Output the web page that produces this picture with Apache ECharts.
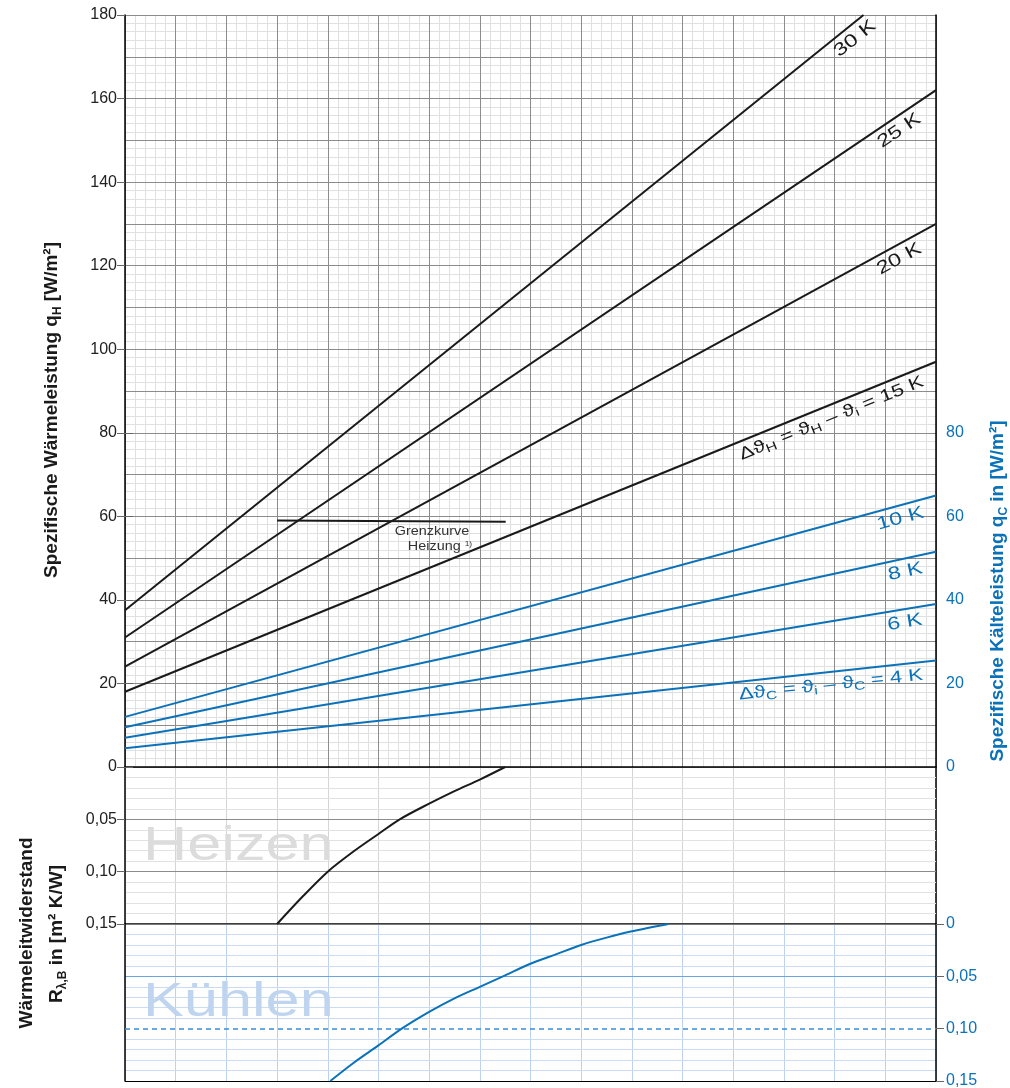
<!DOCTYPE html>
<html>
<head>
<meta charset="utf-8">
<script src="https://cdn.jsdelivr.net/npm/echarts@6/dist/echarts.min.js"></script>
<style>
html, body { margin: 0; padding: 0; background: #fff; }
#chart { width: 1010px; height: 1088px; }
</style>
</head>
<body>
<div id="chart"></div>
<script>
// x is a unitless position on the chart (16 grid columns)
const qH30 = [[0, 37.5], [14.57, 180]];
const qH25 = [[0, 31], [16, 162]];
const qH20 = [[0, 24], [16, 130]];
const qH15 = [[0, 18], [16, 97]];
const qC10 = [[0, 12], [16, 65]];
const qC8 = [[0, 9.5], [16, 51.5]];
const qC6 = [[0, 7], [16, 39]];
const qC4 = [[0, 4.5], [16, 25.5]];
const grenzkurve = [[3, 59], [7.51, 58.7]];

// Wärmeleitwiderstand curves (R in m² K/W)
const rHeizen = [[3.0, 0.15], [3.5, 0.124], [4, 0.1], [4.5, 0.081], [5, 0.064], [5.42, 0.05],
  [6, 0.035], [6.5, 0.023], [7, 0.012], [7.5, 0]];
const rKuehlen = [[4.05, 0.15], [4.5, 0.133], [5, 0.116], [5.46, 0.1], [6, 0.084], [6.5, 0.071],
  [7, 0.06], [7.5, 0.049], [8, 0.038], [8.5, 0.029], [9, 0.02], [9.5, 0.013], [10, 0.007], [10.72, 0]];

const rTickLabels = ['0', '0,05', '0,10', '0,15'];

const FONT = "'Liberation Sans', Arial, Helvetica, sans-serif";
const DARK = '#1a1a1a';
const BLUE = '#0b72b9';
const MAJOR = '#8c8c8c';
const MINOR = '#e0e0e0';

const chart = echarts.init(document.getElementById('chart'));

const off = { show: false };
function rFmt(v) {
  return rTickLabels[Math.round(v / 0.05)];
}

function line(data, color, xi, yi) {
  return {
    type: 'line', data: data, xAxisIndex: xi, yAxisIndex: yi,
    symbol: 'none', silent: true, animation: false, z: 10,
    lineStyle: { color: color, width: 2 }
  };
}

const xBase = { type: 'value', min: 0, max: 16, interval: 1, axisLabel: off, axisTick: off };
const tickStyle = { show: true, length: 8, lineStyle: { color: '#666' } };

let options = {
  backgroundColor: '#fff',
  animation: false,
  grid: [
    { left: 125, top: 15, width: 811, height: 752, outerBoundsMode: 'none', containLabel: false },
    { left: 125, top: 767, width: 811, height: 157, outerBoundsMode: 'none', containLabel: false },
    { left: 125, top: 924, width: 811, height: 157, outerBoundsMode: 'none', containLabel: false },
    { left: 125, top: 767 - 80 * 752 / 180, width: 811, height: 80 * 752 / 180, outerBoundsMode: 'none', containLabel: false }
  ],
  xAxis: [
    // grid 0 minor lines
    Object.assign({}, xBase, { gridIndex: 0, position: 'bottom', z: 0, axisLine: off, splitLine: off,
      minorTick: { show: false, splitNumber: 5 }, minorSplitLine: { show: true, lineStyle: { color: MINOR, width: 1 } } }),
    // grid 0 major lines + top border
    Object.assign({}, xBase, { gridIndex: 0, position: 'top', z: 1,
      axisLine: { show: true, lineStyle: { color: '#000', width: 1.5 } },
      splitLine: { show: true, lineStyle: { color: MAJOR, width: 1 } } }),
    // grid 1 (Heizen)
    Object.assign({}, xBase, { gridIndex: 1, z: 0, axisLine: off,
      splitLine: { show: true, lineStyle: { color: '#d4d4d4', width: 1 } } }),
    // grid 2 (Kühlen)
    Object.assign({}, xBase, { gridIndex: 2, z: 0,
      axisLine: { show: true, lineStyle: { color: '#000', width: 1.5 } },
      splitLine: { show: true, lineStyle: { color: '#bcd2ee', width: 1 } } }),
    // grid 3 helper
    Object.assign({}, xBase, { gridIndex: 3, show: false })
  ],
  yAxis: [
    // 0: left labels q_H
    { type: 'value', gridIndex: 0, position: 'left', min: 0, max: 180, interval: 20, z: 2,
      axisLine: { show: true, lineStyle: { color: '#000', width: 1.5 } },
      axisTick: tickStyle,
      axisLabel: { color: '#222', fontSize: 16, fontFamily: FONT, margin: 8 },
      splitLine: off },
    // 1: minor horizontal lines
    { type: 'value', gridIndex: 0, position: 'left', min: 0, max: 180, interval: 10, z: 0,
      axisLine: off, axisTick: off, axisLabel: off, splitLine: off,
      minorTick: { show: false, splitNumber: 5 },
      minorSplitLine: { show: true, lineStyle: { color: MINOR, width: 1 } } },
    // 2: major horizontal lines + right border
    { type: 'value', gridIndex: 0, position: 'right', min: 0, max: 180, interval: 10, z: 1,
      axisLine: { show: true, lineStyle: { color: '#000', width: 1.5 } },
      axisTick: off, axisLabel: off,
      splitLine: { show: true, lineStyle: { color: MAJOR, width: 1 } } },
    // 3: Heizen left
    { type: 'value', gridIndex: 1, position: 'left', inverse: true, min: 0, max: 0.15, interval: 0.05, z: 1,
      axisLine: { show: true, lineStyle: { color: '#000', width: 1.5 } },
      axisTick: tickStyle,
      axisLabel: { color: '#222', fontSize: 16, fontFamily: FONT, margin: 8,
        formatter: function (v) { return v === 0 ? '' : rFmt(v); } },
      splitLine: { show: true, lineStyle: { color: MAJOR, width: 1 } },
      minorTick: { show: false, splitNumber: 5 },
      minorSplitLine: { show: true, lineStyle: { color: '#e2e2e2', width: 1 } } },
    // 4: Heizen right border
    { type: 'value', gridIndex: 1, position: 'right', inverse: true, min: 0, max: 0.15, interval: 0.05,
      axisLine: { show: true, lineStyle: { color: '#000', width: 1.5 } },
      axisTick: off, axisLabel: off, splitLine: off },
    // 5: Kühlen left
    { type: 'value', gridIndex: 2, position: 'left', inverse: true, min: 0, max: 0.15, interval: 0.05, z: 1,
      axisLine: { show: true, lineStyle: { color: '#000', width: 1.5 } },
      axisTick: off, axisLabel: off,
      splitLine: { show: true, lineStyle: { color: ['#777', '#6aa5dd', 'rgba(0,0,0,0)', '#000'], width: 1.2 } },
      minorTick: { show: false, splitNumber: 5 },
      minorSplitLine: { show: true, lineStyle: { color: '#c9dcf3', width: 1 } } },
    // 6: Kühlen right labels
    { type: 'value', gridIndex: 2, position: 'right', inverse: true, min: 0, max: 0.15, interval: 0.05, z: 2,
      axisLine: { show: true, lineStyle: { color: '#000', width: 1.5 } },
      axisTick: tickStyle,
      axisLabel: { color: BLUE, fontSize: 16, fontFamily: FONT, margin: 10, formatter: rFmt },
      splitLine: off },
    // 7: q_C right labels
    { type: 'value', gridIndex: 3, position: 'right', min: 0, max: 80, interval: 20, z: 2,
      axisLine: off,
      axisTick: tickStyle,
      axisLabel: { color: BLUE, fontSize: 16, fontFamily: FONT, margin: 10 },
      splitLine: off }
  ],
  series: [
    line(qH30, DARK, 0, 1),
    line(qH25, DARK, 0, 1),
    line(qH20, DARK, 0, 1),
    line(qH15, DARK, 0, 1),
    line(qC10, BLUE, 0, 1),
    line(qC8, BLUE, 0, 1),
    line(qC6, BLUE, 0, 1),
    line(qC4, BLUE, 0, 1),
    line(grenzkurve, DARK, 0, 1),
    Object.assign(line(rHeizen, DARK, 2, 3), { smooth: 0.3 }),
    Object.assign(line(rKuehlen, BLUE, 3, 5), {
      smooth: 0.3,
      markLine: {
        silent: true, symbol: ['none', 'none'], label: off, animation: false,
        lineStyle: { type: [5, 4], color: '#3b8bd8', width: 1.5 },
        data: [{ yAxis: 0.1 }]
      }
    })
  ]
};

chart.setOption(options);

// labels along the lines
function richFor(color, size) {
  return {
    t: { fontSize: size, fontFamily: FONT, fill: color, lineHeight: 21 },
    s: { fontSize: 12, fontFamily: FONT, fill: color, verticalAlign: 'bottom', lineHeight: 15 }
  };
}

function interp(data, x) {
  const a = data[0], b = data[data.length - 1];
  return a[1] + (b[1] - a[1]) * (x - a[0]) / (b[0] - a[0]);
}

function lineLabel(data, at, text, color, size) {
  const p0 = chart.convertToPixel({ gridIndex: 0 }, data[0]);
  const p1 = chart.convertToPixel({ gridIndex: 0 }, data[data.length - 1]);
  const ang = Math.atan2(p0[1] - p1[1], p1[0] - p0[0]);
  const p = chart.convertToPixel({ gridIndex: 0 }, [at, interp(data, at)]);
  const d = 13;
  return {
    type: 'text', z: 20, silent: true,
    x: p[0] + d * Math.sin(ang), y: p[1] + d * Math.cos(ang),
    rotation: ang, scaleX: 1.3,
    style: { text: text, align: 'center', verticalAlign: 'middle', fill: color, rich: richFor(color, size) }
  };
}

function vText(x, y, text, color) {
  return {
    type: 'text', x: x, y: y, rotation: Math.PI / 2, silent: true, z: 20,
    style: {
      text: text, align: 'center', verticalAlign: 'middle',
      rich: {
        t: { fontSize: 19, fontWeight: 'bold', fontFamily: FONT, fill: color, lineHeight: 24 },
        s: { fontSize: 12, fontWeight: 'bold', fontFamily: FONT, fill: color, verticalAlign: 'bottom', lineHeight: 16 }
      }
    }
  };
}

chart.setOption({
  graphic: [
    lineLabel(qH30, 14.24, '{t|30 K}', DARK, 18),
    lineLabel(qH25, 15.13, '{t|25 K}', DARK, 18),
    lineLabel(qH20, 15.15, '{t|20 K}', DARK, 18),
    lineLabel(qH15, 13.84, '{t|Δϑ}{s|H}{t| = ϑ}{s|H}{t| – ϑ}{s|i}{t| = 15 K}', DARK, 17),
    lineLabel(qC10, 15.23, '{t|10 K}', BLUE, 18),
    lineLabel(qC8, 15.34, '{t|8 K}', BLUE, 18),
    lineLabel(qC6, 15.34, '{t|6 K}', BLUE, 18),
    lineLabel(qC4, 13.9, '{t|Δϑ}{s|C}{t| = ϑ}{s|i}{t| – ϑ}{s|C}{t| = 4 K}', BLUE, 17),
    {
      type: 'text', x: 432, y: 532, scaleX: 1.2, silent: true, z: 20,
      style: { text: 'Grenzkurve', align: 'center', verticalAlign: 'middle', fontSize: 12, fontFamily: FONT, fill: '#333' }
    },
    {
      type: 'text', x: 440, y: 547, scaleX: 1.2, silent: true, z: 20,
      style: {
        text: 'Heizung {p|1)}', align: 'center', verticalAlign: 'middle', fontSize: 12, fontFamily: FONT, fill: '#333',
        rich: { p: { fontSize: 7, fontFamily: FONT, fill: '#333', verticalAlign: 'top', lineHeight: 8 } }
      }
    },
    {
      type: 'text', x: 143, y: 846, scaleX: 1.25, silent: true, z: 1,
      style: { text: 'Heizen', align: 'left', verticalAlign: 'middle', fontSize: 49, fontFamily: FONT, fill: '#dcdcdc' }
    },
    {
      type: 'text', x: 143, y: 1002, scaleX: 1.25, silent: true, z: 1,
      style: { text: 'Kühlen', align: 'left', verticalAlign: 'middle', fontSize: 49, fontFamily: FONT, fill: '#bfd4ef' }
    },
    vText(52, 410, '{t|Spezifische Wärmeleistung q}{s|H}{t| [W/m²]}', DARK),
    vText(998, 591, '{t|Spezifische Kälteleistung q}{s|C}{t| in [W/m²]}', BLUE),
    vText(27, 933, '{t|Wärmeleitwiderstand}', DARK),
    vText(57, 934, '{t|R}{s|λ,B}{t| in [m² K/W]}', DARK)
  ]
});
</script>
</body>
</html>
